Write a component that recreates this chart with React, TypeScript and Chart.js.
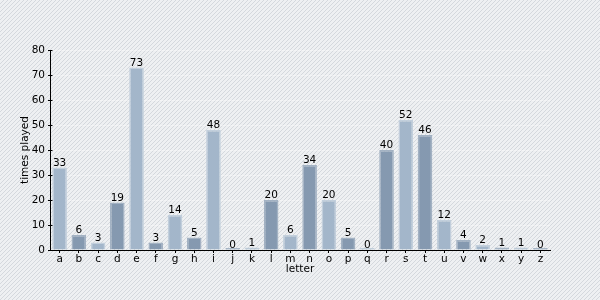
import React, { useEffect, useRef } from "react";
import { Chart, registerables } from "chart.js";

Chart.register(...registerables);

const letters = ["a","b","c","d","e","f","g","h","i","j","k","l","m","n","o","p","q","r","s","t","u","v","w","x","y","z"];
const timesPlayed = [33,6,3,19,73,3,14,5,48,0,1,20,6,34,20,5,0,40,52,46,12,4,2,1,1,0];
const yTicks = [0,10,20,30,40,50,60,70,80];

const FONT = "'DejaVu Sans', Verdana, sans-serif";
const FS = 10.5;
const LIGHT_FILL = "#a3b6ca";
const LIGHT_BORDER = "#c2cfdc";
const DARK_FILL = "#8599b0";
const DARK_BORDER = "#a3b2c3";

function makePattern(): CanvasPattern | string {
  const c = document.createElement("canvas");
  c.width = 4;
  c.height = 4;
  const g = c.getContext("2d");
  if (!g) return "#e8ebee";
  g.fillStyle = "#eef0f2";
  g.fillRect(0, 0, 4, 4);
  g.fillStyle = "#d4d8dd";
  g.fillRect(3, 0, 1, 1);
  g.fillRect(2, 1, 1, 1);
  g.fillRect(1, 2, 1, 1);
  g.fillRect(0, 3, 1, 1);
  const p = g.createPattern(c, "repeat");
  return p || "#e8ebee";
}

const backgroundPlugin = {
  id: "bgPattern",
  beforeDraw(chart: any) {
    const ctx = chart.ctx;
    ctx.save();
    ctx.fillStyle = makePattern();
    ctx.fillRect(0, 0, chart.width, chart.height);
    ctx.restore();
  },
};

const extrasPlugin = {
  id: "extras",
  afterDatasetsDraw(chart: any) {
    const ctx = chart.ctx;
    const y = chart.scales.y;
    const area = chart.chartArea;
    ctx.save();
    ctx.strokeStyle = "#000";
    ctx.lineWidth = 1;
    yTicks.forEach((t) => {
      const py = Math.round(y.getPixelForValue(t)) + 0.5;
      ctx.beginPath();
      ctx.moveTo(area.left, py);
      ctx.lineTo(area.left + 2.5, py);
      ctx.stroke();
    });
    ctx.fillStyle = "#000";
    ctx.font = `${FS}px ${FONT}`;
    ctx.textAlign = "center";
    ctx.textBaseline = "alphabetic";
    const meta = chart.getDatasetMeta(0);
    meta.data.forEach((bar: any, i: number) => {
      const v = timesPlayed[i];
      ctx.fillText(String(v), bar.x, y.getPixelForValue(v) - 2);
    });
    ctx.restore();
  },
};

export default function App() {
  const ref = useRef<HTMLCanvasElement | null>(null);

  useEffect(() => {
    if (!ref.current) return;
    const chart = new Chart(ref.current, {
      type: "bar",
      data: {
        labels: letters,
        datasets: [
          {
            data: timesPlayed,
            backgroundColor: letters.map((_, i) => (i % 2 === 0 ? LIGHT_FILL : DARK_FILL)),
            borderColor: letters.map((_, i) => (i % 2 === 0 ? LIGHT_BORDER : DARK_BORDER)),
            borderWidth: 1.5,
            borderSkipped: "bottom",
            categoryPercentage: 0.8,
            barPercentage: 0.95,
            minBarLength: 2,
          },
        ],
      },
      options: {
        responsive: false,
        animation: false,
        layout: { padding: { left: 15, top: 50, right: 50, bottom: 20 } },
        plugins: {
          legend: { display: false },
          tooltip: { enabled: false },
        },
        scales: {
          x: {
            grid: {
              display: true,
              drawOnChartArea: false,
              offset: false,
              tickLength: 3,
              tickColor: "#000",
            },
            border: { display: true, color: "#000", width: 1 },
            ticks: {
              color: "#000",
              font: { family: FONT, size: FS },
              padding: 0,
              maxRotation: 0,
              autoSkip: false,
            },
            title: {
              display: true,
              text: "letter",
              color: "#000",
              font: { family: FONT, size: FS },
              padding: { top: 4, bottom: 4 },
            },
            afterFit: (s: any) => {
              s.height = 30;
            },
          },
          y: {
            min: 0,
            max: 80,
            ticks: {
              stepSize: 10,
              color: "#000",
              font: { family: FONT, size: FS },
              padding: 3,
            },
            grid: {
              color: "rgba(255,255,255,0.35)",
              tickColor: "#000",
              tickLength: 2,
            },
            border: { display: true, color: "#000", width: 1 },
            title: {
              display: true,
              text: "times played",
              color: "#000",
              font: { family: FONT, size: FS },
              padding: { top: 4, bottom: 4 },
            },
            afterFit: (s: any) => {
              s.width = 35;
            },
          },
        },
      },
      plugins: [backgroundPlugin, extrasPlugin],
    });
    return () => chart.destroy();
  }, []);

  return (
    <div style={{ position: "fixed", left: 0, top: 0, width: 600, height: 300 }}>
      <canvas ref={ref} width={600} height={300} />
    </div>
  );
}
